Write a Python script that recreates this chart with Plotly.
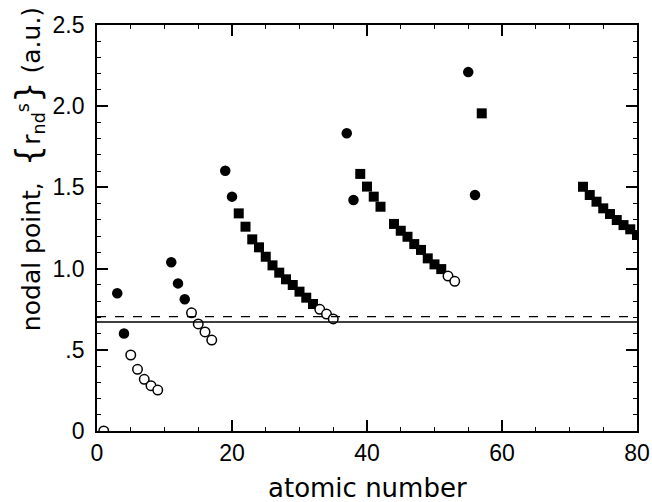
import plotly.graph_objects as go

# Nodal point values (atomic number -> value in a.u.)
filled_circle_z = [3, 4, 11, 12, 13, 19, 20, 37, 38, 55, 56]
filled_circle_r = [0.848, 0.600, 1.039, 0.909, 0.811, 1.603, 1.443, 1.833, 1.422, 2.210, 1.453]

open_circle_z = [1, 5, 6, 7, 8, 9, 14, 15, 16, 17, 33, 34, 35, 52, 53]
open_circle_r = [0.0, 0.468, 0.380, 0.318, 0.279, 0.252, 0.728, 0.659, 0.610, 0.560,
                 0.749, 0.720, 0.690, 0.954, 0.922]

square_z = [21, 22, 23, 24, 25, 26, 27, 28, 29, 30, 31, 32,
            39, 40, 41, 42, 44, 45, 46, 47, 48, 49, 50, 51,
            57,
            72, 73, 74, 75, 76, 77, 78, 79, 80]
square_r = [1.340, 1.258, 1.180, 1.131, 1.073, 1.020, 0.975, 0.934, 0.899, 0.858, 0.821, 0.782,
            1.583, 1.505, 1.443, 1.381, 1.275, 1.233, 1.196, 1.151, 1.115, 1.063, 1.026, 0.997,
            1.956,
            1.504, 1.453, 1.412, 1.371, 1.336, 1.299, 1.268, 1.242, 1.207]

solid_level = 0.671
dashed_level = 0.704

y_tickvals = [0, 0.5, 1.0, 1.5, 2.0, 2.5]
y_ticktext = ["0", ".5", "1.0", "1.5", "2.0", "2.5"]
x_tickvals = [0, 20, 40, 60, 80]

tick_font = dict(family="Liberation Sans", size=23, color="black")
title_font = dict(family="DejaVu Sans", size=25, color="black")

fig = go.Figure()

fig.add_hline(y=solid_level, line=dict(color="black", width=1.6))
fig.add_hline(y=dashed_level, line=dict(color="black", width=1.3, dash="dash"))

fig.add_trace(go.Scatter(
    x=square_z, y=square_r, mode="markers",
    marker=dict(symbol="square", size=10, color="black", line=dict(width=0)),
))
fig.add_trace(go.Scatter(
    x=filled_circle_z, y=filled_circle_r, mode="markers",
    marker=dict(symbol="circle", size=10.5, color="black", line=dict(width=0)),
))
fig.add_trace(go.Scatter(
    x=open_circle_z, y=open_circle_r, mode="markers",
    marker=dict(symbol="circle", size=9.5, color="white", line=dict(width=1.5, color="black")),
))

axis_common = dict(
    showline=True, linecolor="black", linewidth=1.8, mirror="allticks",
    ticks="inside", tickcolor="black", tickwidth=1.5, ticklen=11,
    showgrid=False, zeroline=False, tickfont=tick_font, automargin=False,
)

fig.update_xaxes(
    range=[0, 80], tickvals=x_tickvals, ticklabelstandoff=0,
    minor=dict(dtick=5, ticks="inside", ticklen=4, tickcolor="black", tickwidth=1.2),
    **axis_common,
)
fig.update_yaxes(
    range=[0, 2.5], tickvals=y_tickvals, ticktext=y_ticktext, ticklabelstandoff=6,
    minor=dict(dtick=0.1, ticks="inside", ticklen=4, tickcolor="black", tickwidth=1.2),
    **axis_common,
)

fig.add_annotation(
    text="atomic number", xref="paper", yref="paper", x=0.5, y=0,
    xanchor="center", yanchor="top", yshift=-40, showarrow=False,
    font=dict(family="DejaVu Sans", size=26, color="black"),
)
fig.add_annotation(
    text='nodal point,  <span style="font-size:34px">{</span>r<sub>nd</sub><sup>s</sup>'
         '<span style="font-size:34px">}</span> (a.u.)',
    xref="paper", yref="paper", x=0, y=0.645, xanchor="center", yanchor="middle",
    xshift=-69, textangle=-90, showarrow=False, font=title_font,
)

fig.update_layout(
    width=652, height=502,
    margin=dict(l=97, r=15, t=25, b=71),
    plot_bgcolor="white", paper_bgcolor="white",
    showlegend=False,
)

# drop the default body margin so the figure fills the window exactly
fig.write_html("out.html", config={"displayModeBar": False},
               post_script="document.body.style.margin='0';")
